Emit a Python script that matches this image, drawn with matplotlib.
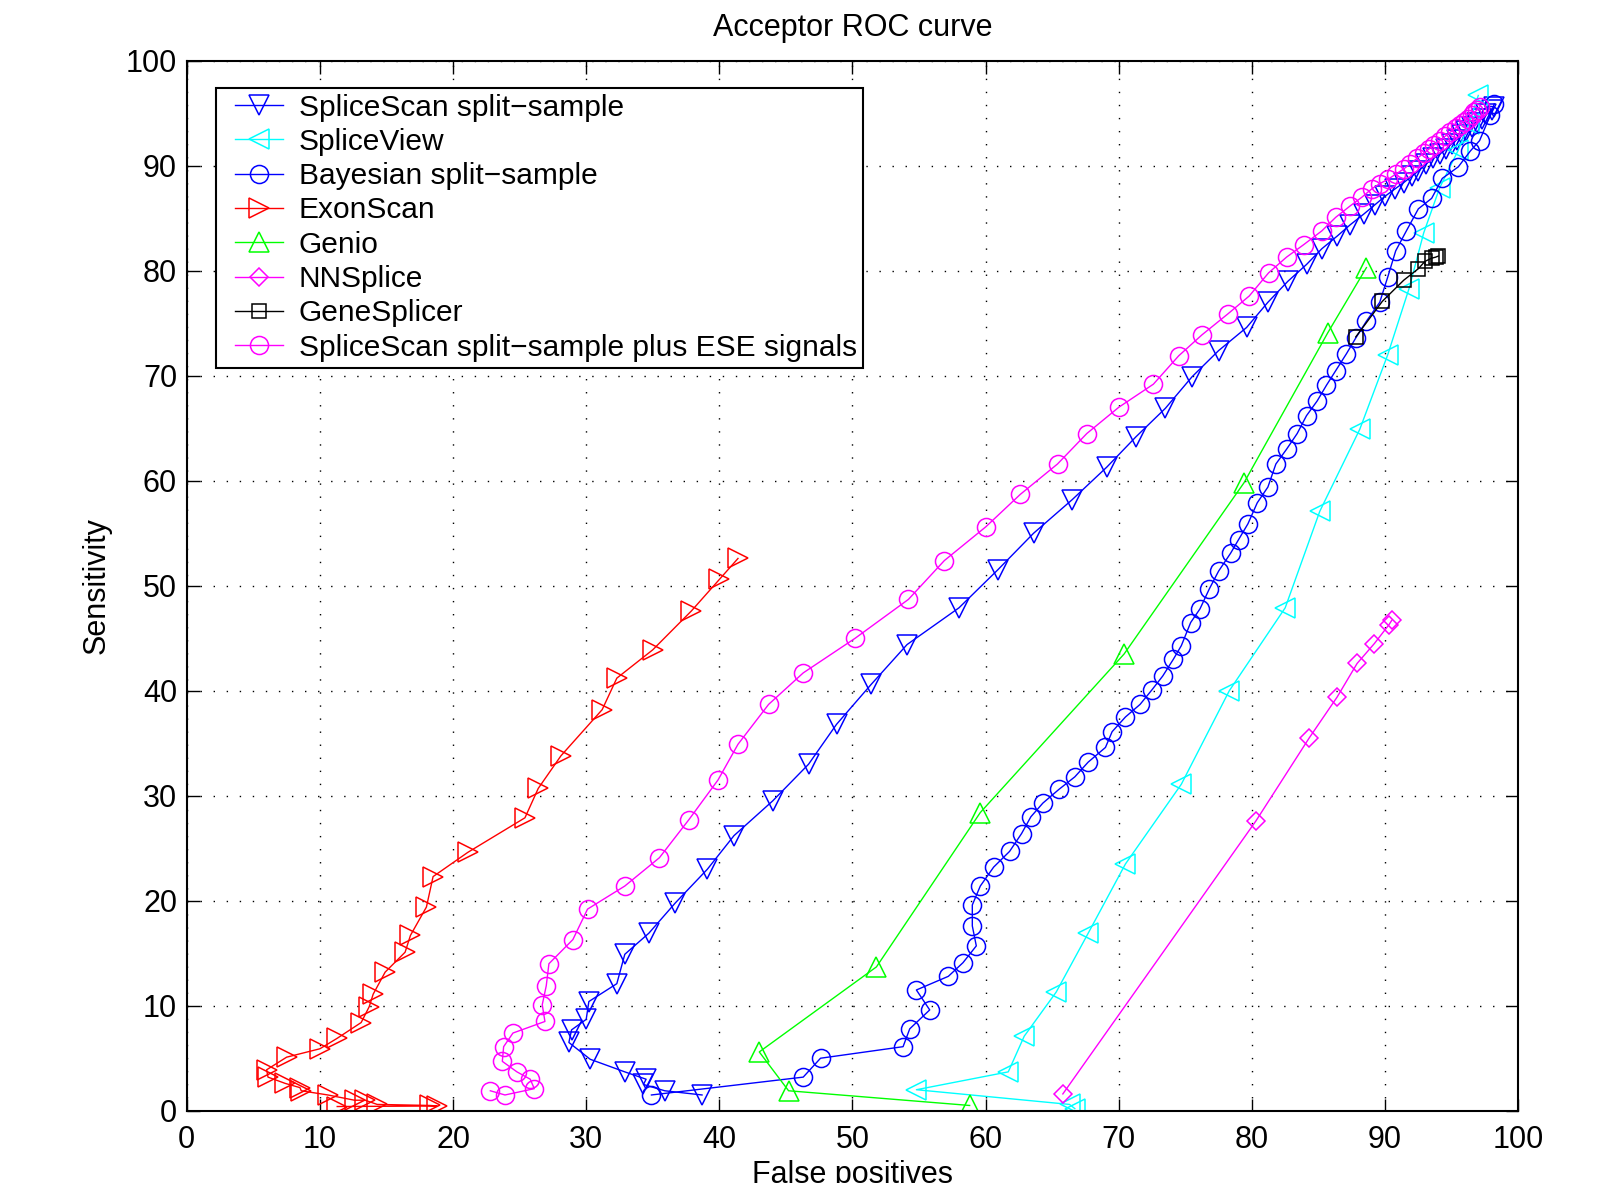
import matplotlib
matplotlib.use("Agg")
import matplotlib.pyplot as plt
from matplotlib.legend_handler import HandlerLine2D

plt.rcParams['font.family'] = ['Liberation Sans', 'DejaVu Sans']

# SpliceScan split-sample (blue, down triangles)
splicescan_fp = [98.2, 98.0, 97.6, 97.25, 96.9, 96.5, 96.1, 95.75, 95.4, 95.0,
                 94.6, 94.1, 93.6, 93.1, 92.5, 92.0, 91.4, 90.75, 90.0, 89.25,
                 88.4, 87.4, 86.4, 85.25, 84.1, 82.7, 81.2, 79.6, 77.5, 75.5,
                 73.5, 71.3, 69.1, 66.5, 63.6, 60.9, 58.0, 54.1, 51.4, 48.8,
                 46.7, 44.0, 41.1, 39.1, 36.7, 34.7, 32.9, 32.3, 30.2, 30.0,
                 28.9, 28.7, 30.3, 32.9, 34.5, 34.3, 35.9, 38.7]
splicescan_sens = [95.6, 95.3, 94.9, 94.5, 94.1, 93.7, 93.3, 92.9, 92.5, 92.1,
                   91.6, 91.1, 90.7, 90.2, 89.5, 89.0, 88.4, 87.8, 87.1, 86.3,
                   85.4, 84.4, 83.3, 82.1, 80.6, 79.0, 77.0, 74.6, 72.4, 69.9,
                   66.9, 64.2, 61.3, 58.2, 55.0, 51.5, 47.9, 44.4, 40.6, 36.8,
                   33.0, 29.5, 26.2, 23.0, 19.8, 16.9, 14.9, 12.1, 10.4, 8.7,
                   7.7, 6.5, 4.9, 3.7, 3.0, 2.5, 1.9, 1.5]

# SpliceView (cyan, left triangles)
spliceview_fp = [97.0, 96.3, 95.5, 94.1, 92.9, 91.8, 90.2, 88.1, 85.1, 82.5,
                 78.3, 74.7, 70.5, 67.7, 65.3, 62.9, 61.7, 54.8, 66.3, 66.7]
spliceview_sens = [96.7, 94.0, 91.5, 87.9, 83.6, 78.3, 72.0, 64.9, 57.1, 47.9,
                   40.0, 31.1, 23.5, 16.9, 11.3, 7.1, 3.7, 2.0, 0.6, 0.2]

# Bayesian split-sample (blue, circles)
bayes_fp = [98.2, 97.9, 97.1, 96.4, 95.5, 94.3, 93.5, 92.5, 91.6, 90.8,
            90.2, 89.6, 88.6, 87.8, 87.1, 86.3, 85.6, 84.9, 84.1, 83.4,
            82.6, 81.8, 81.2, 80.4, 79.7, 79.0, 78.4, 77.5, 76.8, 76.1,
            75.4, 74.7, 74.1, 73.3, 72.5, 71.6, 70.5, 69.5, 69.0, 67.7,
            66.7, 65.5, 64.3, 63.4, 62.7, 61.8, 60.6, 59.6, 59.0, 59.0,
            59.3, 58.3, 57.2, 54.8, 55.8, 54.3, 53.8, 47.6, 46.3, 34.9]
bayes_sens = [95.9, 94.8, 92.4, 91.4, 89.9, 88.8, 86.9, 85.9, 83.8, 81.9,
              79.4, 77.0, 75.2, 73.6, 72.1, 70.5, 69.1, 67.6, 66.2, 64.5,
              63.0, 61.6, 59.4, 57.9, 55.9, 54.4, 53.1, 51.4, 49.7, 47.8,
              46.5, 44.3, 43.0, 41.4, 40.1, 38.7, 37.5, 36.1, 34.6, 33.2,
              31.8, 30.6, 29.3, 28.0, 26.4, 24.7, 23.2, 21.4, 19.6, 17.6,
              15.7, 14.1, 12.8, 11.5, 9.6, 7.8, 6.1, 5.0, 3.2, 1.5]

# ExonScan (red, right triangles)
exonscan_fp = [41.4, 40.0, 37.9, 35.0, 32.3, 31.2, 28.1, 26.4, 25.4, 21.1,
               18.5, 18.0, 16.8, 16.4, 14.9, 14.0, 13.7, 13.1, 11.3, 10.0,
               7.5, 6.0, 6.1, 7.4, 8.5, 8.6, 10.6, 12.6, 13.4, 14.3,
               18.3, 18.8, 11.3]
exonscan_sens = [52.6, 50.6, 47.6, 43.9, 41.2, 38.2, 33.8, 30.7, 27.9, 24.6,
                 22.3, 19.4, 16.7, 15.1, 13.2, 11.1, 9.9, 8.4, 6.9, 5.9,
                 5.1, 3.9, 3.2, 2.6, 2.2, 1.9, 1.5, 1.0, 1.0, 0.6,
                 0.5, 0.45, 0.4]

# Genio (green, up triangles)
genio_fp = [88.6, 85.7, 79.4, 70.4, 59.6, 51.8, 43.0, 45.2, 58.8]
genio_sens = [80.3, 74.1, 59.8, 43.5, 28.4, 13.7, 5.6, 1.9, 0.5]

# NNSplice (magenta, diamonds)
nnsplice_fp = [65.8, 80.3, 84.3, 86.4, 87.9, 89.2, 90.3, 90.5]
nnsplice_sens = [1.6, 27.6, 35.5, 39.4, 42.6, 44.5, 46.3, 46.7]

# GeneSplicer (black, squares)
genesplicer_fp = [87.8, 89.8, 91.4, 92.5, 93.0, 93.5, 93.8, 94.0]
genesplicer_sens = [73.7, 77.1, 79.1, 80.2, 80.9, 81.2, 81.3, 81.4]

# SpliceScan split-sample plus ESE signals (magenta, circles)
ese_fp = [97.1, 96.9, 96.7, 96.5, 96.2, 95.9, 95.6, 95.3, 94.9, 94.5,
          94.1, 93.7, 93.3, 92.9, 92.4, 91.9, 91.4, 90.8, 90.2, 89.6,
          89.0, 88.25, 87.4, 86.3, 85.25, 83.9, 82.6, 81.25, 79.8, 78.2,
          76.25, 74.5, 72.6, 70.0, 67.6, 65.4, 62.6, 60.0, 56.9, 54.2,
          50.2, 46.3, 43.7, 41.4, 39.9, 37.7, 35.5, 32.9, 30.1, 29.0,
          27.2, 27.0, 26.7, 26.9, 24.5, 23.8, 23.7, 24.8, 25.8, 26.1,
          23.9, 22.8]
ese_sens = [95.6, 95.3, 95.1, 94.8, 94.5, 94.2, 93.9, 93.6, 93.2, 92.8,
            92.4, 92.0, 91.6, 91.2, 90.7, 90.2, 89.7, 89.2, 88.7, 88.3,
            87.8, 87.0, 86.2, 85.1, 83.8, 82.5, 81.3, 79.8, 77.6, 75.9,
            73.9, 71.9, 69.2, 67.0, 64.5, 61.6, 58.7, 55.6, 52.4, 48.7,
            45.0, 41.7, 38.7, 34.9, 31.5, 27.7, 24.1, 21.4, 19.2, 16.3,
            14.0, 11.9, 10.1, 8.5, 7.4, 6.1, 4.7, 3.7, 3.0, 2.1,
            1.5, 1.9]

series = [
    ("SpliceScan split\u2212sample", splicescan_fp, splicescan_sens, (0, 0, 1), "v", 14),
    ("SpliceView", spliceview_fp, spliceview_sens, (0, 1, 1), "<", 14),
    ("Bayesian split\u2212sample", bayes_fp, bayes_sens, (0, 0, 1), "o", 13),
    ("ExonScan", exonscan_fp, exonscan_sens, (1, 0, 0), ">", 14),
    ("Genio", genio_fp, genio_sens, (0, 1, 0), "^", 14),
    ("NNSplice", nnsplice_fp, nnsplice_sens, (1, 0, 1), "D", 9.5),
    ("GeneSplicer", genesplicer_fp, genesplicer_sens, (0, 0, 0), "s", 10.5),
    ("SpliceScan split\u2212sample plus ESE signals", ese_fp, ese_sens, (1, 0, 1), "o", 13),
]

fig = plt.figure(figsize=(16.17, 11.83), dpi=100)
ax = fig.add_axes([0.1155, 0.0611, 0.8234, 0.8875])

lines = []
for label, xs, ys, color, marker, ms in series:
    ln, = ax.plot(xs, ys, color=color, lw=1.0, marker=marker, ms=ms,
                  markerfacecolor="none", markeredgecolor=color, mew=1.1, label=label)
    lines.append(ln)

ax.set_xlim(0, 100)
ax.set_ylim(0, 100)
ax.set_xticks(range(0, 101, 10))
ax.set_yticks(range(0, 101, 10))
ax.grid(True, color="black", linestyle=(0, (1, 8.4)), lw=1.0)
ax.tick_params(direction="in", top=True, right=True, length=9, width=1,
               labelsize=22)
ax.tick_params(axis="x", pad=10)
ax.tick_params(axis="y", pad=7)
for sp in ax.spines.values():
    sp.set_linewidth(1.5)

ax.set_title("Acceptor ROC curve", fontsize=22, pad=18)
ax.set_xlabel("False positives", fontsize=22, labelpad=4)
ax.set_ylabel("Sensitivity", fontsize=22, labelpad=10)

# shift handles right inside the box, like the MATLAB legend
handler_map = {ln: HandlerLine2D(xpad=0.455) for ln in lines}
leg = ax.legend(handler_map=handler_map, loc="upper left",
                bbox_to_anchor=(0.0216, 0.9744), borderaxespad=0,
                fontsize=21.5, fancybox=False, framealpha=1, edgecolor="black",
                handlelength=2.075, handletextpad=0.52, labelspacing=0.21,
                borderpad=0.2)
leg.get_frame().set_linewidth(1.5)

fig.savefig("out.png", dpi=100)
